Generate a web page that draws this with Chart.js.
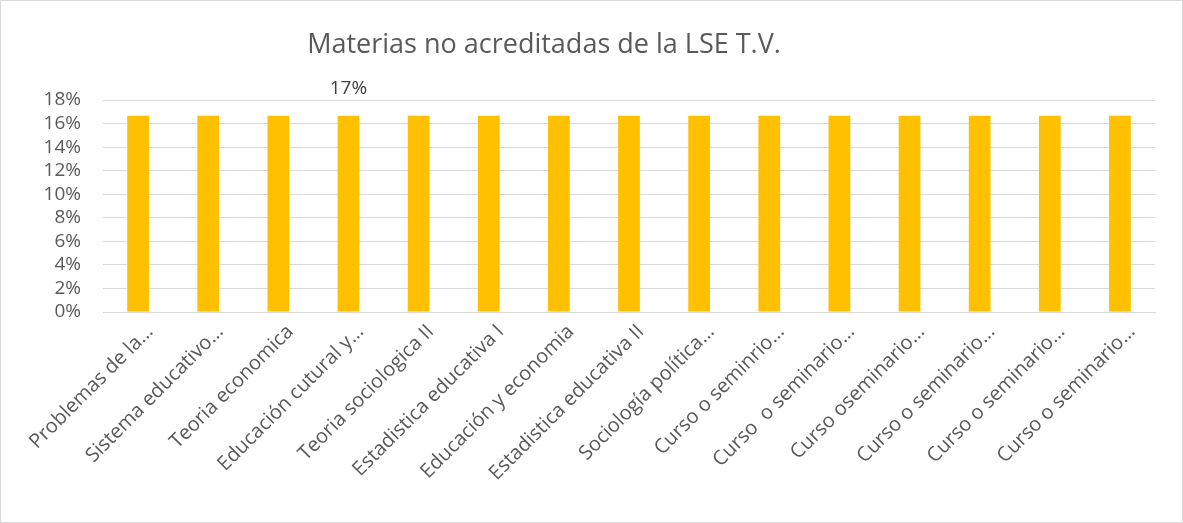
<!DOCTYPE html>
<html>
<head>
<meta charset="utf-8">
<script src="https://cdn.jsdelivr.net/npm/chart.js@4.4.1/dist/chart.umd.min.js"></script>
<style>
    html, body { margin: 0; padding: 0; background: #fff; }
    #wrap {
        position: absolute; left: 0; top: 0;
        width: 1181px; height: 521px;
        border: 1px solid #d9d9d9;
    }
</style>
</head>
<body>
<div id="wrap"><canvas id="chart" width="1181" height="521"></canvas></div>
<script>
// Chart data
const titulo = 'Materias no acreditadas de la LSE T.V.';
const materias = [
    'Problemas de la…',
    'Sistema educativo…',
    'Teoria economica',
    'Educación cutural y…',
    'Teoria sociologica II',
    'Estadistica educativa I',
    'Educación y economia',
    'Estadistica educativa II',
    'Sociología política…',
    'Curso o seminrio…',
    'Curso  o seminario…',
    'Curso oseminario…',
    'Curso o seminario…',
    'Curso o seminario…',
    'Curso o seminario…'
];
const porcentajes = [0.1667, 0.1667, 0.1667, 0.1667, 0.1667, 0.1667, 0.1667, 0.1667,
                     0.1667, 0.1667, 0.1667, 0.1667, 0.1667, 0.1667, 0.1667];
const etiquetas = ['', '', '', '17%', '', '', '', '', '', '', '', '', '', '', ''];
const yTicks = [0, 0.02, 0.04, 0.06, 0.08, 0.10, 0.12, 0.14, 0.16, 0.18];

const FONT = "'Open Sans', 'DejaVu Sans', sans-serif";
const GRAY = '#595959';

// data label above its bar + title (Excel puts it a bit left of centre)
const extrasPlugin = {
    id: 'extras',
    afterDatasetsDraw(chart) {
        const ctx = chart.ctx;
        const meta = chart.getDatasetMeta(0);
        ctx.save();
        ctx.font = `19px ${FONT}`;
        ctx.fillStyle = '#404040';
        ctx.textAlign = 'center';
        ctx.textBaseline = 'middle';
        meta.data.forEach((bar, i) => {
            if (etiquetas[i]) {
                ctx.fillText(etiquetas[i], bar.x, bar.y - 27);
            }
        });

        ctx.font = `27px ${FONT}`;
        ctx.fillStyle = GRAY;
        ctx.fillText(titulo, 543, 44);
        ctx.restore();
    }
};

new Chart(document.getElementById('chart'), {
    type: 'bar',
    data: {
        labels: materias,
        datasets: [{
            data: porcentajes,
            backgroundColor: '#FFC000',
            categoryPercentage: 1,
            barPercentage: 0.31
        }]
    },
    options: {
        responsive: false,
        animation: false,
        layout: { padding: { left: 0, right: 27, top: 99, bottom: 0 } },
        plugins: {
            legend: { display: false },
            tooltip: { enabled: false },
            title: { display: false }
        },
        scales: {
            x: {
                grid: { display: false, drawTicks: false },
                border: { color: '#d9d9d9', width: 1 },
                ticks: {
                    autoSkip: false,
                    minRotation: 45,
                    maxRotation: 45,
                    color: GRAY,
                    padding: 8,
                    labelOffset: 12,
                    font: { family: FONT, size: 20 }
                },
                afterFit(scale) { scale.height = 210; }
            },
            y: {
                min: 0,
                max: 0.18,
                afterBuildTicks(scale) {
                    scale.ticks = yTicks.map(v => ({ value: v }));
                },
                grid: { color: '#d9d9d9', drawTicks: false },
                border: { display: false },
                ticks: {
                    autoSkip: false,
                    color: GRAY,
                    padding: 22,
                    font: { family: FONT, size: 19 },
                    callback: v => Math.round(v * 100) + '%'
                },
                afterFit(scale) { scale.width = 102; }
            }
        }
    },
    plugins: [extrasPlugin]
});
</script>
</body>
</html>
